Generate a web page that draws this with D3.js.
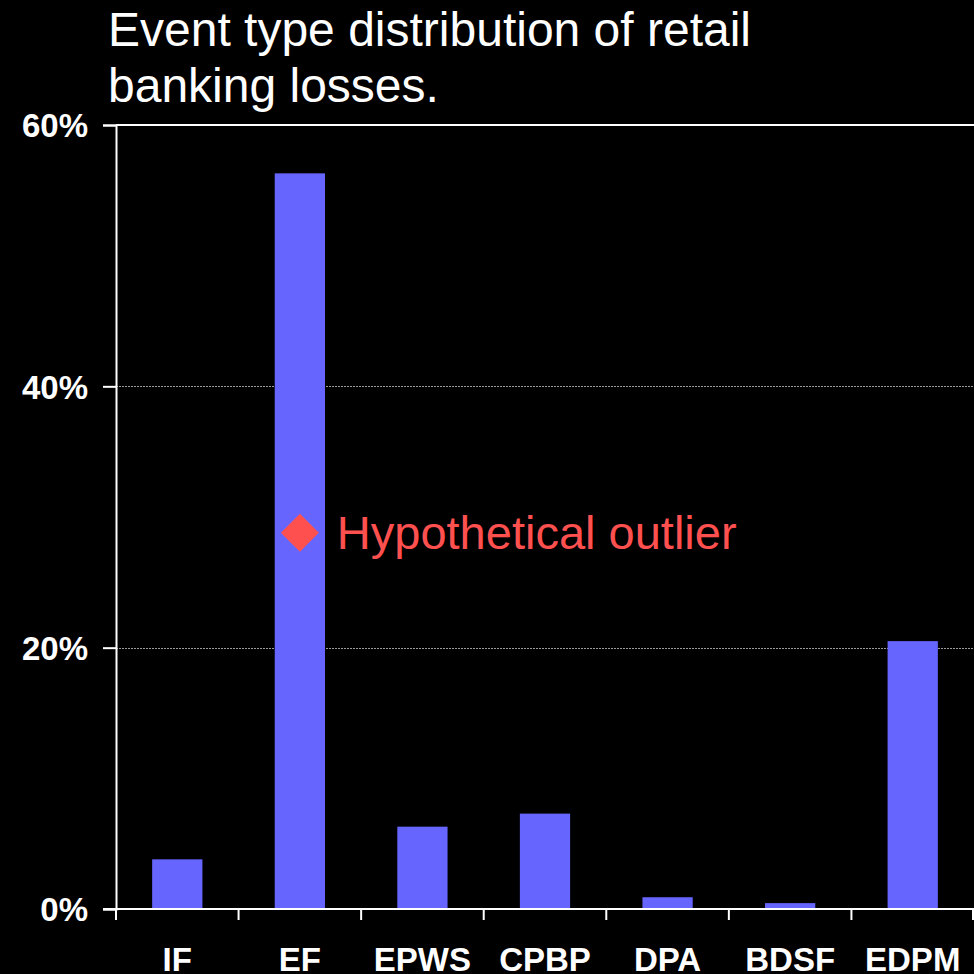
<!DOCTYPE html>
<html>
<head>
<meta charset="utf-8">
<script src="https://cdn.jsdelivr.net/npm/d3@7"></script>
<style>
  html, body { margin: 0; padding: 0; background: #000; }
  svg { display: block; font-family: "Liberation Sans", Arial, sans-serif; }
</style>
</head>
<body>
<svg id="chart" width="974" height="974"></svg>
<script>
// data
var categories = ["IF", "EF", "EPWS", "CPBP", "DPA", "BDSF", "EDPM"];
var shares = [0.038, 0.563, 0.063, 0.073, 0.009, 0.0045, 0.205];
var yTicks = [0, 0.2, 0.4, 0.6];
var outlier = {cat: "EF", value: 0.288, label: "Hypothetical outlier"};
var titleLines = ["Event type distribution of retail", "banking losses."];

var svg = d3.select("#chart");
var W = 974, H = 974;
var margin = {top: 125, right: 0, bottom: 65, left: 116};
var plotBottom = H - margin.bottom;

svg.append("rect").attr("width", W).attr("height", H).attr("fill", "#000");

var x = d3.scaleBand()
    .domain(categories)
    .range([margin.left, W - margin.right]);

var y = d3.scaleLinear()
    .domain([0, 0.6])
    .range([plotBottom, margin.top]);

// title
svg.append("g").selectAll("text")
    .data(titleLines)
    .enter()
    .append("text")
    .attr("x", 108)
    .attr("y", function(d, i) { return 46 + i * 56; })
    .attr("fill", "#fff")
    .style("font-size", "48px")
    .text(function(d) { return d; });

// grid lines (20%, 40%), dotted grey
svg.append("g").selectAll("line")
    .data(yTicks.filter(function(d) { return d > 0 && d < 0.6; }))
    .enter()
    .append("line")
    .attr("x1", margin.left)
    .attr("x2", W)
    .attr("y1", function(d) { return Math.round(y(d)) + 0.5; })
    .attr("y2", function(d) { return Math.round(y(d)) + 0.5; })
    .attr("stroke", "#9a9a9a")
    .attr("stroke-width", 1)
    .attr("stroke-dasharray", "2,1");

// top border at 60%
svg.append("line")
    .attr("x1", margin.left).attr("x2", W)
    .attr("y1", y(0.6)).attr("y2", y(0.6))
    .attr("stroke", "#fff").attr("stroke-width", 2);

// bars
var barW = x.bandwidth() * 0.41;
svg.append("g").selectAll("rect")
    .data(categories)
    .enter()
    .append("rect")
    .attr("x", function(d) { return x(d) + (x.bandwidth() - barW) / 2; })
    .attr("y", function(d, i) { return y(shares[i]); })
    .attr("width", barW)
    .attr("height", function(d, i) { return plotBottom - y(shares[i]); })
    .attr("fill", "#6666ff");

// y axis
var yAxis = d3.axisLeft(y)
    .tickValues(yTicks)
    .tickSize(13)
    .tickPadding(15)
    .tickFormat(d3.format(".0%"));

var gy = svg.append("g")
    .attr("transform", "translate(" + margin.left + ",0)")
    .call(yAxis);
gy.select(".domain").attr("stroke", "#fff").attr("stroke-width", 2);
gy.selectAll(".tick line").attr("stroke", "#fff").attr("stroke-width", 2);
gy.selectAll(".tick text")
    .attr("fill", "#fff")
    .attr("dy", "0.36em")
    .style("font-size", "33px")
    .style("font-weight", "bold")
    .style("font-family", "'Liberation Sans', Arial, sans-serif");

// x axis: ticks at category boundaries
var gx = svg.append("g")
    .attr("transform", "translate(0," + plotBottom + ")");
gx.append("line")
    .attr("x1", 103).attr("x2", W)
    .attr("y1", 0).attr("y2", 0)
    .attr("stroke", "#fff").attr("stroke-width", 2);
var bounds = categories.map(function(d) { return x(d); }).concat([x.range()[1] - 1]);
gx.selectAll(".xtick")
    .data(bounds)
    .enter()
    .append("line")
    .attr("class", "xtick")
    .attr("x1", function(d) { return d; })
    .attr("x2", function(d) { return d; })
    .attr("y1", 0)
    .attr("y2", 11)
    .attr("stroke", "#fff")
    .attr("stroke-width", 2);
gx.selectAll(".xlabel")
    .data(categories)
    .enter()
    .append("text")
    .attr("class", "xlabel")
    .attr("x", function(d) { return x(d) + x.bandwidth() / 2; })
    .attr("y", 62)
    .attr("text-anchor", "middle")
    .attr("fill", "#fff")
    .style("font-size", "33px")
    .style("font-weight", "bold")
    .text(function(d) { return d; });

// hypothetical outlier marker
var ox = x(outlier.cat) + x.bandwidth() / 2;
var oy = y(outlier.value);
svg.append("path")
    .attr("d", d3.symbol().type(d3.symbolDiamond2).size(920)())
    .attr("transform", "translate(" + ox + "," + oy + ")")
    .attr("fill", "#ff5050");
svg.append("text")
    .attr("x", ox + 37)
    .attr("y", oy + 16)
    .attr("fill", "#ff5050")
    .style("font-size", "47px")
    .text(outlier.label);
</script>
</body>
</html>
